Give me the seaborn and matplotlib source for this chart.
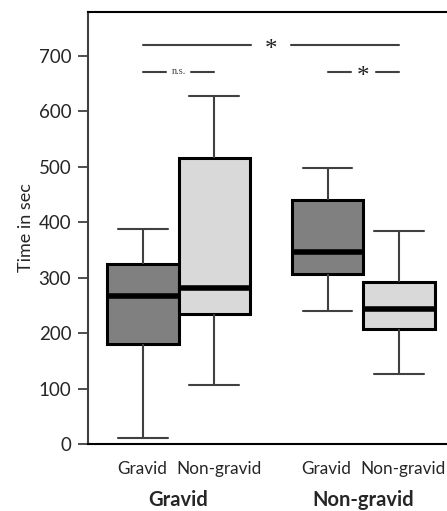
import pandas as pd
import seaborn as sns
import matplotlib.pyplot as plt

# five-number summaries: min, Q1, median, Q3, max
groups = ["Gravid", "Non-gravid"]
subgroups = ["Gravid", "Non-gravid"]
grav_grav = [11, 180, 267, 324, 387]
grav_nongrav = [107, 234, 281, 516, 628]
nongrav_grav = [239, 307, 346, 440, 498]
nongrav_nongrav = [127, 207, 244, 293, 384]
yticks = [0, 100, 200, 300, 400, 500, 600, 700]

rows = []
for g, s, vals in [("Gravid", "Gravid", grav_grav),
                   ("Gravid", "Non-gravid", grav_nongrav),
                   ("Non-gravid", "Gravid", nongrav_grav),
                   ("Non-gravid", "Non-gravid", nongrav_nongrav)]:
    for v in vals:
        rows.append({"group": g, "sub": s, "time": v})
df = pd.DataFrame(rows)

sns.set_style("white")
plt.rcParams["font.family"] = ["Lato", "DejaVu Sans"]

fig = plt.figure(figsize=(4.47, 5.11), dpi=100)
ax = fig.add_axes([88 / 447, 1 - 444 / 511, 1 - 88 / 447, (444 - 12) / 511])

width = 0.774
sns.boxplot(data=df, x="group", y="time", hue="sub", order=groups,
            hue_order=subgroups, palette=["#808080", "#d9d9d9"],
            width=width, gap=0, whis=(0, 100), fliersize=0, legend=False,
            linecolor="black", linewidth=2.2, capwidths=0.27,
            medianprops={"color": "black", "linewidth": 4},
            whiskerprops={"color": "#404040", "linewidth": 1.5},
            capprops={"color": "#404040", "linewidth": 1.5},
            ax=ax)

ax.set_ylim(0, 779)
ax.set_xlim(-0.49, 1.453)
ax.set_yticks(yticks)
ax.tick_params(axis="y", direction="out", length=7, width=1.3,
               color="#404040", labelsize=13.5, pad=5, left=True)
ax.set_ylabel("Time in sec", fontsize=13, labelpad=3)
ax.set_xlabel("")

# box centres for the sub labels, groups underneath in bold
off = width / 4
centres = [0 - off, 0 + off, 1 - off, 1 + off]
nudge = [-0.005, 0.024, -0.005, 0.024]
ax.set_xticks([0, 1])
ax.set_xticklabels(groups, fontsize=14.5, fontweight="bold")
ax.set_xticks([c + n for c, n in zip(centres, nudge)], minor=True)
ax.set_xticklabels(subgroups * 2, minor=True, fontsize=12.3)
ax.tick_params(axis="x", which="both", length=0)
ax.tick_params(axis="x", which="minor", pad=12)
ax.tick_params(axis="x", which="major", pad=33)

for side in ["left", "bottom", "top"]:
    ax.spines[side].set_visible(True)
    ax.spines[side].set_linewidth(1.5)
ax.spines["left"].set_color("#404040")
ax.spines["bottom"].set_color("black")
ax.spines["top"].set_color("black")
ax.spines["right"].set_visible(False)

# significance bars
lc = "#404040"
ax.plot([centres[0], 0.392], [720, 720], color=lc, lw=1.5)
ax.plot([0.609, centres[3]], [720, 720], color=lc, lw=1.5)
ax.text(0.5, 711, "*", ha="center", va="center", fontsize=18,
        family="Liberation Serif", color="#202020")
ax.plot([centres[0], centres[0] + 0.125], [670, 670], color=lc, lw=1.5)
ax.plot([centres[1] - 0.125, centres[1]], [670, 670], color=lc, lw=1.5)
ax.text(0.0, 672, "n.s.", ha="center", va="center", fontsize=7.5,
        family="Liberation Serif", color="#404040")
ax.plot([centres[2], centres[2] + 0.125], [670, 670], color=lc, lw=1.5)
ax.plot([centres[3] - 0.125, centres[3]], [670, 670], color=lc, lw=1.5)
ax.text(1.0, 661, "*", ha="center", va="center", fontsize=18,
        family="Liberation Serif", color="#202020")

fig.savefig("out.png", dpi=100)
